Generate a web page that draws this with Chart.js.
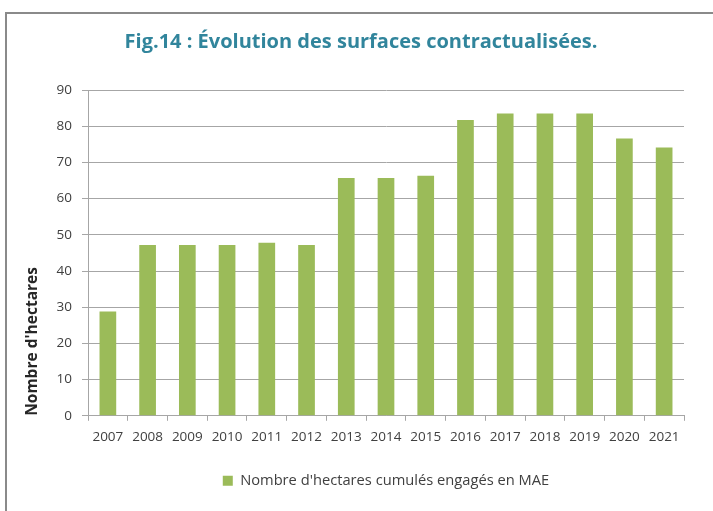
<!DOCTYPE html>
<html>
<head>
<meta charset="utf-8">
<script src="https://cdn.jsdelivr.net/npm/chart.js@4/dist/chart.umd.min.js"></script>
<style>
  html, body { margin: 0; padding: 0; background: #ffffff; }
  #wrap { position: relative; width: 713px; height: 511px; overflow: hidden; background: #ffffff; }
  #frame { position: absolute; left: 5px; top: 12px; width: 760px; height: 560px; border: 2px solid #8a8a8a; box-sizing: border-box; }
  canvas { position: absolute; left: 0; top: 0; }
</style>
</head>
<body>
<div id="wrap">
  <div id="frame"></div>
  <canvas id="chart" width="713" height="511"></canvas>
</div>
<script>
// Surfaces contractualisées par année (hectares cumulés)
const years = ['2007', '2008', '2009', '2010', '2011', '2012', '2013', '2014',
               '2015', '2016', '2017', '2018', '2019', '2020', '2021'];
const hectares = [28.8, 47.2, 47.2, 47.2, 47.8, 47.2, 65.7, 65.7,
                  66.3, 81.7, 83.5, 83.5, 83.5, 76.6, 74.1];
const seriesLabel = "Nombre d'hectares cumulés engagés en MAE";
const chartTitle = 'Fig.14 : Évolution des surfaces contractualisées.';
const yTitle = "Nombre d'hectares";

const textColor = '#404040';
const gridColor = '#a6a6a6';
const barColor = '#9bbb59';
const baseFont = 'Open Sans, Liberation Sans, sans-serif';

// The title block spans from the frame's inner edge to the plot's right edge
const titleSpan = {
  id: 'titleSpan',
  afterLayout(chart) {
    if (chart.titleBlock) {
      chart.titleBlock.left = 38;
      chart.titleBlock.width = chart.titleBlock.right - 38;
    }
  }
};

new Chart(document.getElementById('chart'), {
  type: 'bar',
  data: {
    labels: years,
    datasets: [{
      label: seriesLabel,
      data: hectares,
      backgroundColor: barColor,
      borderWidth: 0,
      categoryPercentage: 1,
      barPercentage: 0.42
    }]
  },
  plugins: [titleSpan],
  options: {
    responsive: false,
    animation: false,
    layout: { padding: { left: 0, right: 29, top: 0, bottom: 13 } },
    plugins: {
      tooltip: { enabled: false },
      title: {
        display: true,
        text: chartTitle,
        color: '#31859c',
        font: { family: baseFont, size: 20, weight: 'bold' },
        padding: { top: 30, bottom: 36 }
      },
      legend: {
        display: true,
        position: 'bottom',
        fullSize: false,
        labels: {
          color: textColor,
          font: { family: baseFont, size: 14.7 },
          boxWidth: 10,
          boxHeight: 10,
          padding: 10
        }
      }
    },
    scales: {
      x: {
        grid: {
          offset: true,
          drawOnChartArea: false,
          color: gridColor,
          tickLength: 5
        },
        border: { display: true, color: gridColor },
        ticks: {
          color: textColor,
          font: { family: baseFont, size: 13.5 },
          padding: 8,
          maxRotation: 0,
          autoSkip: false
        },
        afterFit: (scale) => { scale.height = 47.5; }
      },
      y: {
        min: 0,
        max: 90,
        ticks: {
          stepSize: 10,
          color: textColor,
          font: { family: baseFont, size: 13.5 },
          padding: 10
        },
        grid: { color: gridColor, tickLength: 6 },
        border: { display: true, color: gridColor },
        title: {
          display: true,
          text: yTitle,
          color: '#262626',
          align: 'start',
          font: { family: baseFont, size: 15.5, weight: 'bold' },
          padding: { top: 23, bottom: 0 }
        },
        afterFit: (scale) => { scale.width = 88; }
      }
    }
  }
});
</script>
</body>
</html>
